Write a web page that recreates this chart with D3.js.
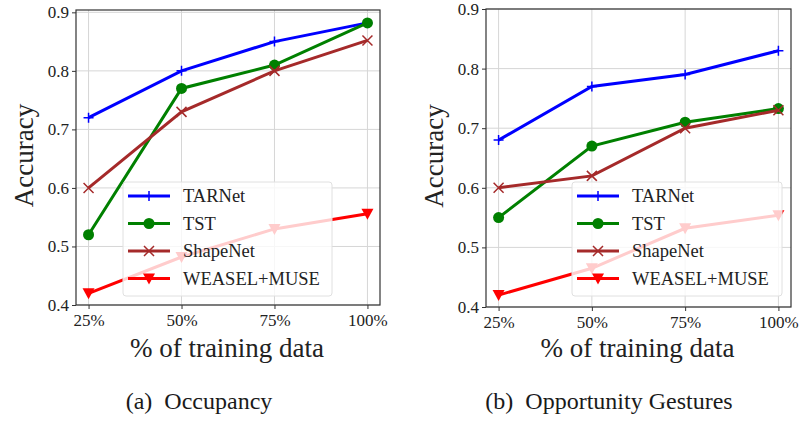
<!DOCTYPE html>
<html>
<head>
<meta charset="utf-8">
<script src="https://cdn.jsdelivr.net/npm/d3@7"></script>
<style>
  body { margin: 0; background: #fff; }
  text { font-family: "Liberation Serif", "DejaVu Serif", serif; fill: #222; }
</style>
</head>
<body>
<script>
let w = 801;
let h = 421;

const percents = ["25%", "50%", "75%", "100%"];
const yTicks = [0.4, 0.5, 0.6, 0.7, 0.8, 0.9];
const methods = ["TARNet", "TST", "ShapeNet", "WEASEL+MUSE"];

// (a) Occupancy
const occTARNet = [0.72, 0.80, 0.85, 0.882];
const occTST = [0.52, 0.77, 0.81, 0.882];
const occShapeNet = [0.60, 0.73, 0.80, 0.852];
const occWeasel = [0.42, 0.482, 0.53, 0.556];

// (b) Opportunity Gestures
const oppTARNet = [0.68, 0.77, 0.79, 0.83];
const oppTST = [0.55, 0.67, 0.71, 0.733];
const oppShapeNet = [0.60, 0.62, 0.70, 0.73];
const oppWeasel = [0.42, 0.465, 0.532, 0.554];

const colors = ["#0000ff", "#008000", "#a52a2a", "#ff0000"];
const markers = ["plus", "circle", "cross", "tri"];
const serif = "'Liberation Serif', 'DejaVu Serif', serif";

let svg = d3.select("body").append("svg").attr("width", w).attr("height", h);

function drawMarker(g, type, x, y, color) {
  if (type === "circle") {
    g.append("circle").attr("cx", x).attr("cy", y).attr("r", 5.5).attr("fill", color);
  } else if (type === "plus") {
    g.append("path").attr("d", `M${x - 5},${y}H${x + 5}M${x},${y - 5}V${y + 5}`)
      .attr("stroke", color).attr("stroke-width", 1.5);
  } else if (type === "cross") {
    g.append("path").attr("d", `M${x - 5},${y - 5}L${x + 5},${y + 5}M${x - 5},${y + 5}L${x + 5},${y - 5}`)
      .attr("stroke", color).attr("stroke-width", 1.5);
  } else {
    g.append("path").attr("d", `M${x - 6},${y - 5}L${x + 6},${y - 5}L${x},${y + 6}Z`)
      .attr("fill", color);
  }
}

function panel(left, right, top, bottom, yTop, series, caption, capX, legendBox) {
  let x = d3.scalePoint().domain(percents).range([left, right]).padding(0.135);
  let y = d3.scaleLinear().domain([0.4, yTop]).range([bottom, top]);
  let g = svg.append("g");

  // grid
  g.selectAll(".gx").data(percents).enter().append("line")
    .attr("x1", d => x(d)).attr("x2", d => x(d))
    .attr("y1", top).attr("y2", bottom)
    .attr("stroke", "#d6d6d6").attr("stroke-width", 1);
  g.selectAll(".gy").data(yTicks).enter().append("line")
    .attr("x1", left).attr("x2", right)
    .attr("y1", d => y(d)).attr("y2", d => y(d))
    .attr("stroke", "#d6d6d6").attr("stroke-width", 1);

  // lines
  let line = d3.line().x((d, i) => x(percents[i])).y(d => y(d));
  series.forEach((s, k) => {
    g.append("path").attr("d", line(s))
      .attr("fill", "none").attr("stroke", colors[k]).attr("stroke-width", 3);
    s.forEach((v, i) => drawMarker(g, markers[k], x(percents[i]), y(v), colors[k]));
  });

  // frame
  g.append("rect").attr("x", left).attr("y", top)
    .attr("width", right - left).attr("height", bottom - top)
    .attr("fill", "none").attr("stroke", "#333").attr("stroke-width", 1.2);

  // axes
  let ax = g.append("g").attr("transform", `translate(0,${bottom})`)
    .call(d3.axisBottom(x).tickSize(4).tickPadding(5));
  let ay = g.append("g").attr("transform", `translate(${left},0)`)
    .call(d3.axisLeft(y).tickValues(yTicks).tickFormat(d3.format(".1f")).tickSize(4).tickPadding(3));
  [ax, ay].forEach(a => {
    a.select(".domain").remove();
    a.selectAll("line").attr("stroke", "#333");
    a.selectAll("text").style("font-size", "17px").style("fill", "#222")
      .style("font-family", serif);
  });

  // legend
  let lg = g.append("g");
  lg.append("rect").attr("x", legendBox[0]).attr("y", legendBox[1])
    .attr("width", legendBox[2]).attr("height", legendBox[3])
    .attr("rx", 3).attr("fill", "#fff").attr("fill-opacity", 0.8)
    .attr("stroke", "#e0e0e0");
  methods.forEach((m, k) => {
    let ly = legendBox[1] + 14 + k * 27.5;
    let lx = legendBox[0] + 5;
    lg.append("line").attr("x1", lx).attr("x2", lx + 42).attr("y1", ly).attr("y2", ly)
      .attr("stroke", colors[k]).attr("stroke-width", 3);
    drawMarker(lg, markers[k], lx + 21, ly, colors[k]);
    lg.append("text").attr("x", lx + 55).attr("y", ly).attr("dy", "0.35em")
      .style("font-size", "18.5px").style("font-family", serif).text(m);
  });

  // labels
  g.append("text").attr("transform", `translate(${left - 43},${(top + bottom) / 2 - 2}) rotate(-90)`)
    .attr("text-anchor", "middle").style("font-size", "27px").style("font-family", serif)
    .text("Accuracy");
  g.append("text").attr("x", (left + right) / 2 - 1).attr("y", 357)
    .attr("text-anchor", "middle").style("font-size", "27px").style("font-family", serif)
    .text("% of training data");
  g.append("text").attr("x", capX).attr("y", 409)
    .attr("text-anchor", "middle").style("font-size", "24px").style("font-family", serif)
    .style("fill", "#1a1a1a")
    .text(caption);
}

panel(76, 380, 10, 305, 0.904, [occTARNet, occTST, occShapeNet, occWeasel],
  "(a)\u00a0\u00a0Occupancy", 199, [123, 182, 209, 114]);
panel(486, 791, 9, 307, 0.9, [oppTARNet, oppTST, oppShapeNet, oppWeasel],
  "(b)\u00a0\u00a0Opportunity Gestures", 609, [572, 182, 210, 114]);
</script>
</body>
</html>
